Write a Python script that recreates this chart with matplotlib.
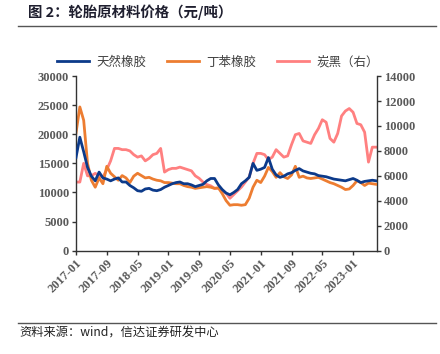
import matplotlib
matplotlib.use("Agg")
import matplotlib.pyplot as plt
import numpy as np

plt.rcParams['font.family'] = ['Noto Sans CJK SC', 'DejaVu Sans']

# monthly data, 2017-01 .. 2023-07
months = np.arange(79)
tick_pos = list(range(0, 73, 8))
tick_labels = ["2017-01", "2017-09", "2018-05", "2019-01", "2019-09",
               "2020-05", "2021-01", "2021-09", "2022-05", "2023-01"]

natural_rubber = [16000, 19500, 17000, 14300, 12800, 12000, 13500, 12500, 12300, 12000,
                  12300, 12500, 11800, 11800, 11200, 10800, 10300, 10200, 10600, 10700,
                  10400, 10300, 10500, 10900, 11200, 11500, 11700, 11800, 11500, 11500,
                  11300, 11000, 11200, 11400, 12000, 12400, 12400, 11300, 10500, 9900,
                  9600, 10000, 10500, 11500, 12000, 12600, 15000, 13800, 14000, 14300,
                  16000, 14000, 13000, 12600, 12800, 13200, 13400, 13800, 14100, 13700,
                  13500, 13300, 13200, 12900, 12800, 12700, 12500, 12300, 12200, 12100,
                  12000, 12200, 12400, 12100, 11700, 11900, 12000, 12100, 12000]

sbr = [20200, 24700, 22400, 15000, 12100, 10900, 12500, 11500, 14500, 13300,
       12700, 12100, 12900, 12500, 11700, 12800, 13300, 12900, 12500, 12600,
       12300, 12100, 12000, 11700, 11700, 11600, 11500, 11500, 11200, 11000,
       10900, 10700, 10800, 10900, 11000, 10900, 10700, 10800, 9800, 8600,
       7800, 7900, 7900, 7800, 7900, 9000, 10900, 12100, 11700, 12800,
       14300, 13600, 12600, 13400, 12700, 12400, 13000, 14500, 12600, 12800,
       12500, 12400, 12500, 12600, 12300, 12000, 11700, 11500, 11200, 10900,
       10500, 10600, 11200, 12000, 11700, 11200, 11600, 11500, 11400]

carbon_black = [5500, 5500, 7000, 6000, 6000, 6200, 6000, 5900, 6500, 7200,
                8200, 8200, 8100, 8100, 8000, 7700, 7500, 7600, 7200, 7400,
                7700, 7800, 8200, 6300, 6500, 6600, 6600, 6700, 6600, 6500,
                6400, 6000, 5800, 5500, 5300, 5200, 5000, 5000, 4800, 4600,
                4200, 4500, 4800, 5100, 5500, 5900, 7000, 7800, 7800, 7700,
                7300, 7500, 8100, 7800, 7500, 7600, 8500, 9300, 9400, 8800,
                8700, 8600, 9300, 9800, 10500, 10300, 9000, 8700, 9400, 10800,
                11200, 11400, 11100, 10200, 10100, 9500, 7100, 8300, 8300]

blue = "#0c3a8a"
orange = "#ed7d31"
pink = "#ff8080"
grey = "#595959"

fig = plt.figure(figsize=(4.4, 3.54), dpi=100)
ax = fig.add_axes([0.1727, 0.292, 0.684, 0.493])
ax2 = ax.twinx()

l1, = ax.plot(months, natural_rubber, color=blue, lw=2.0, label="天然橡胶", zorder=3)
l2, = ax.plot(months, sbr, color=orange, lw=2.0, label="丁苯橡胶", zorder=2)
l3, = ax2.plot(months, carbon_black, color=pink, lw=2.0, label="炭黑（右）")
ax.set_zorder(ax2.get_zorder() + 1)
ax.patch.set_visible(False)

ax.set_xlim(0, 78.2)
ax.set_ylim(0, 30000)
ax2.set_ylim(0, 14000)
ax.set_yticks(range(0, 30001, 5000))
ax2.set_yticks(range(0, 14001, 2000))
ax.set_xticks(tick_pos)
ax.set_xticklabels(tick_labels, rotation=45, ha="right", rotation_mode="anchor")

for lab in ax.get_xticklabels() + ax.get_yticklabels() + ax2.get_yticklabels():
    lab.set_fontproperties("Liberation Serif")
    lab.set_fontweight("bold")
    lab.set_fontsize(9)
    lab.set_color(grey)

for a in (ax, ax2):
    a.spines["top"].set_visible(False)
    for s in ("left", "right", "bottom"):
        a.spines[s].set_color("#333333")
        a.spines[s].set_linewidth(1.0)
    a.tick_params(direction="out", length=3, width=1, color="#333333", pad=2)
ax.spines["right"].set_visible(False)
ax2.spines["left"].set_visible(False)
ax2.spines["bottom"].set_visible(False)

fig.legend(handles=[l1, l2, l3], loc="center", bbox_to_anchor=(0.495, 0.825),
           ncol=3, frameon=False, fontsize=9, handlelength=2.6, handletextpad=0.6,
           columnspacing=1.6, labelcolor="#404040")

fig.text(0.064, 0.965, "图 2：轮胎原材料价格（元/吨）", fontsize=10.4, weight="bold",
         color="#1f1f2f", va="center", ha="left")
fig.add_artist(plt.Line2D([0.041, 0.99], [0.926, 0.926], color="#555555", lw=1.0))
fig.add_artist(plt.Line2D([0.041, 0.99], [0.087, 0.087], color="#555555", lw=1.0))
fig.text(0.045, 0.058, "资料来源：wind，信达证券研发中心", fontsize=8.8, style="italic",
         color="#222222", va="center", ha="left")

fig.savefig("out.png", dpi=100)
